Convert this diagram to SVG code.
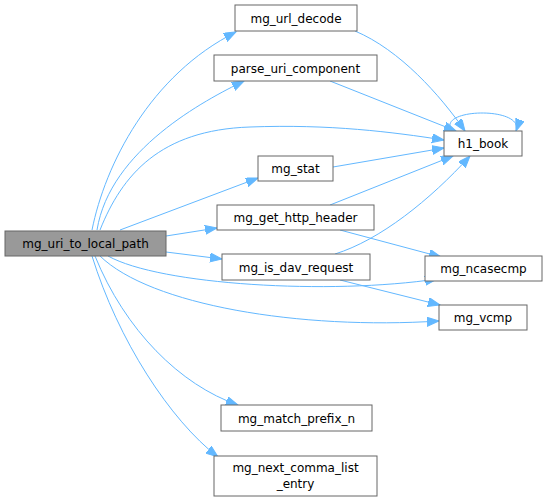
<svg xmlns="http://www.w3.org/2000/svg" width="547" height="502" viewBox="0 0 547 502">
<style>
.n rect{fill:#fff;stroke:#666;stroke-width:1}
.n text{font-family:"DejaVu Sans",sans-serif;font-size:12px;fill:#000;text-anchor:middle}
#main rect{fill:#999}
.e path{fill:none;stroke:#63b8ff;stroke-width:1;marker-end:url(#ah)}
</style>
<defs>
<marker id="ah" markerUnits="userSpaceOnUse" markerWidth="13" markerHeight="10" refX="12" refY="4.5" orient="auto">
<polygon points="0,0 12,4.5 0,9" fill="#63b8ff" stroke="#63b8ff"/>
</marker>
</defs>
<rect width="547" height="502" fill="#fff"/>
<g class="e" id="edges">
<path d="M92,230 C105,165 150,75 236,32"/>
<path d="M97,230 C110,150 205,100 244,81"/>
<path d="M100,230 C122,175 160,130 250,127 C330,124 392,132 444,140"/>
<path d="M120,230 L258,178"/>
<path d="M166,236 L217,228"/>
<path d="M166,252 L222,259"/>
<path d="M108,256 C160,285 330,295 437,279"/>
<path d="M100,256 C150,305 300,330 439,321"/>
<path d="M95,256 C125,330 180,385 238,405"/>
<path d="M92,256 C118,340 170,420 218,457"/>
<path d="M355,31 C400,50 440,95 465,131"/>
<path d="M330,81 L456,131"/>
<path d="M333,167 L444,148"/>
<path d="M330,205 L453,156"/>
<path d="M335,254 C380,240 430,200 470,156"/>
<path d="M340,230 L441,257"/>
<path d="M340,280 L440,305"/>
<path d="M452,131 C435,108 525,106 516,131"/>
</g>
<g class="n" id="main"><rect x="5" y="231" width="161" height="25"/><text x="85.5" y="248">mg_uri_to_local_path</text></g>
<g class="n" id="n_url_decode"><rect x="235" y="5" width="122" height="26"/><text x="296" y="22.5">mg_url_decode</text></g>
<g class="n" id="n_parse_uri"><rect x="214" y="55" width="163" height="26"/><text x="295.5" y="72.5">parse_uri_component</text></g>
<g class="n" id="n_h1_book"><rect x="444" y="131" width="78" height="25"/><text x="483" y="148">h1_book</text></g>
<g class="n" id="n_stat"><rect x="258" y="156" width="75" height="25"/><text x="295.5" y="173">mg_stat</text></g>
<g class="n" id="n_http_header"><rect x="217" y="205" width="157" height="25"/><text x="295.5" y="222">mg_get_http_header</text></g>
<g class="n" id="n_dav"><rect x="222" y="254" width="148" height="26"/><text x="296" y="271.5">mg_is_dav_request</text></g>
<g class="n" id="n_ncasecmp"><rect x="425" y="256" width="117" height="25"/><text x="483.5" y="273">mg_ncasecmp</text></g>
<g class="n" id="n_vcmp"><rect x="439" y="305" width="88" height="25"/><text x="483" y="322">mg_vcmp</text></g>
<g class="n" id="n_match_prefix"><rect x="221" y="405" width="151" height="26"/><text x="296.5" y="422.5">mg_match_prefix_n</text></g>
<g class="n" id="n_next_comma"><rect x="214" y="456" width="163" height="40"/><text x="295.5" y="472">mg_next_comma_list</text><text x="295.5" y="488">_entry</text></g>
</svg>
